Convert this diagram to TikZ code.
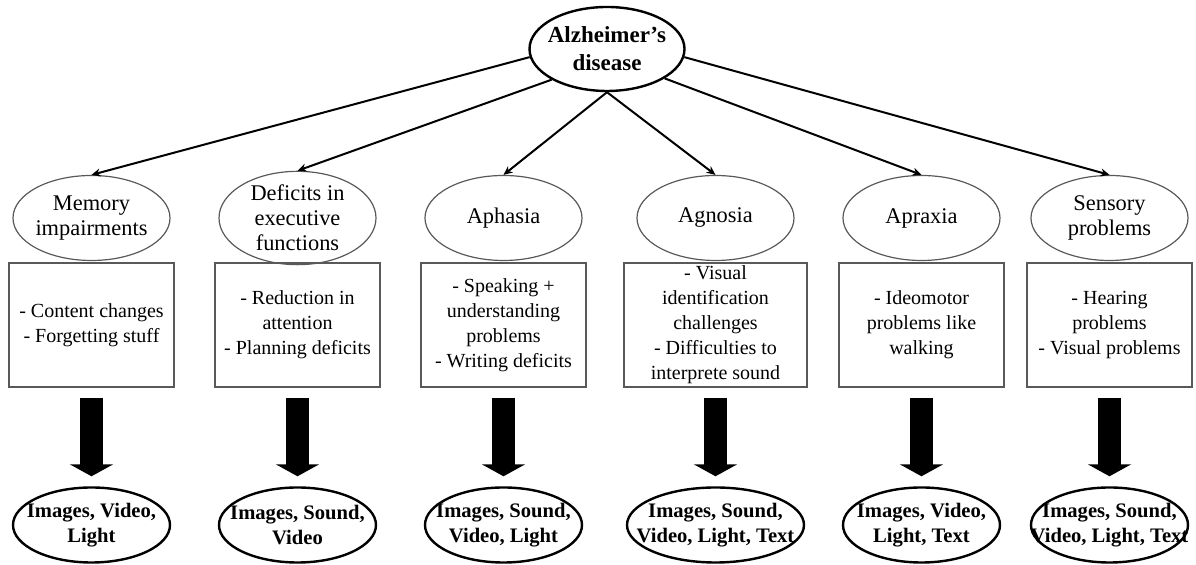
\documentclass[tikz,border=0pt]{standalone}
\usepackage{fontspec}
\setmainfont{Liberation Serif}
\usepackage{tikz}
\usetikzlibrary{arrows.meta,shapes.geometric,positioning}

\begin{document}
\begin{tikzpicture}[>={Stealth[length=4.5pt,width=4pt]},x=1pt,y=1pt,node distance=103pt,
  top node/.style={ellipse,draw,line width=1.2pt,minimum width=77.5pt,minimum height=42pt,
    inner xsep=-5pt,inner ysep=0pt,align=center,font=\bfseries\fontsize{11.5}{14}\selectfont},
  main node/.style={ellipse,draw=black!65,line width=0.6pt,minimum width=78.5pt,minimum height=42.5pt,
    inner xsep=-5pt,inner ysep=0pt,align=center,font=\fontsize{11.2}{12.5}\selectfont},
  list node/.style={rectangle,draw=black!65,line width=0.6pt,minimum width=82.5pt,minimum height=62pt,
    inner sep=0pt,align=center,font=\fontsize{10}{12.5}\selectfont},
  media node/.style={ellipse,draw,line width=1.2pt,minimum width=78.5pt,minimum height=37.5pt,
    inner xsep=-16pt,inner ysep=0pt,align=center,font=\bfseries\fontsize{10.3}{12.5}\selectfont},
  big arrow/.style={line width=11.5pt,-{Triangle[width=21.5pt,length=6pt]},shorten <=5pt,shorten >=5pt}]

  \useasboundingbox (0,0) rectangle (598,-282.5);

  \node[top node] (ad) at (303.5,-24.5) {Alzheimer’s\\disease};

  % symptom groups
  \node[main node] (mem) at (45.75,-109) {Memory\\impairments};
  \node[main node] (exe) [right of=mem] {Deficits in\\executive\\functions};
  \node[main node] (aph) [right of=exe] {Aphasia};
  \node[main node] (agn) [right of=aph,node distance=106pt] {Agnosia};
  \node[main node] (apr) [right of=agn] {Apraxia};
  \node[main node] (sen) [right of=apr,node distance=94pt] {Sensory\\problems};

  % details
  \node[list node] (memb) [below of=mem,node distance=53.5pt] {- Content changes\\- Forgetting stuff};
  \node[list node] (exeb) [below of=exe,node distance=53.5pt] {- Reduction in\\attention\\- Planning deficits};
  \node[list node] (aphb) [below of=aph,node distance=53.5pt] {- Speaking +\\understanding\\problems\\- Writing deficits};
  \node[list node,minimum width=91.5pt] (agnb) [below of=agn,node distance=53.5pt] {- Visual\\identification\\challenges\\- Difficulties to\\interprete sound};
  \node[list node] (aprb) [below of=apr,node distance=53.5pt] {- Ideomotor\\problems like\\walking};
  \node[list node] (senb) [below of=sen,node distance=53.5pt] {- Hearing\\problems\\- Visual problems};

  % media
  \node[media node] (memm) [below of=memb,node distance=100pt] {Images, Video,\\Light};
  \node[media node] (exem) [below of=exeb,node distance=100pt] {Images, Sound,\\Video};
  \node[media node] (aphm) [below of=aphb,node distance=100pt] {Images, Sound,\\Video, Light};
  \node[media node,minimum width=88.5pt] (agnm) [below of=agnb,node distance=100pt] {Images, Sound,\\Video, Light, Text};
  \node[media node] (aprm) [below of=aprb,node distance=100pt] {Images, Video,\\Light, Text};
  \node[media node] (senm) [below of=senb,node distance=100pt] {Images, Sound,\\Video, Light, Text};

  \path[->,line width=1pt]
    (ad.186) edge (mem.north)
    (ad.209) edge (exe.north)
    (ad.south) edge (aph.north)
               edge (agn.north)
    (ad.333) edge (apr.north)
    (ad.354) edge (sen.north);

  \draw[big arrow] (memb.south) -- (memm.north);
  \draw[big arrow] (exeb.south) -- (exem.north);
  \draw[big arrow] (aphb.south) -- (aphm.north);
  \draw[big arrow] (agnb.south) -- (agnm.north);
  \draw[big arrow] (aprb.south) -- (aprm.north);
  \draw[big arrow] (senb.south) -- (senm.north);
\end{tikzpicture}
\end{document}
